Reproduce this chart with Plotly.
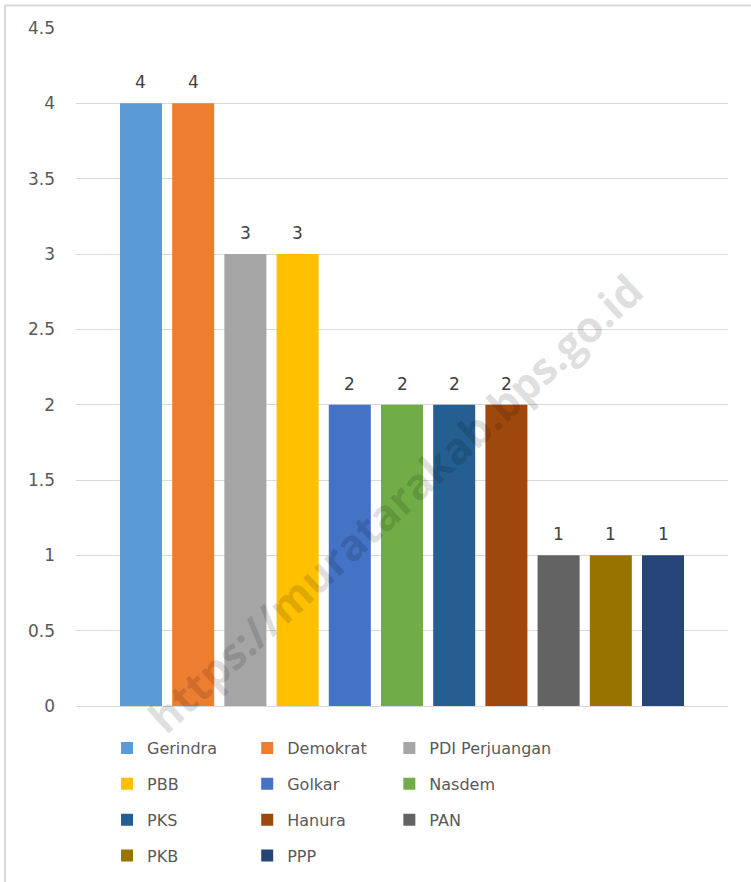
import plotly.graph_objects as go

parties = ["Gerindra", "Demokrat", "PDI Perjuangan", "PBB", "Golkar", "Nasdem",
           "PKS", "Hanura", "PAN", "PKB", "PPP"]
seats = [4, 4, 3, 3, 2, 2, 2, 2, 1, 1, 1]
colors = ["#5B9BD5", "#ED7D31", "#A5A5A5", "#FFC000", "#4472C4", "#70AD47",
          "#255E91", "#9E480E", "#636363", "#997300", "#264478"]
legend_cols = ["legend", "legend2", "legend3"]

fig = go.Figure()
for i, (p, v, c) in enumerate(zip(parties, seats, colors)):
    fig.add_trace(go.Bar(
        x=[p], y=[v], name=p, marker=dict(color=c, line=dict(width=0)),
        width=0.805, legend=legend_cols[i % 3], legendgroup=p,
        hoverinfo="skip",
    ))
    fig.add_annotation(x=p, y=v, text=str(v), showarrow=False, yshift=21,
                       yanchor="middle",
                       font=dict(family="DejaVu Sans", size=17, color="#404040"))

legend_common = dict(orientation="v", yanchor="top", xanchor="left",
                     font=dict(family="DejaVu Sans", size=16, color="#595959"),
                     tracegroupgap=12, bgcolor="rgba(0,0,0,0)", itemclick=False)
fig.update_layout(
    legend=dict(x=0.0476, y=-0.0371, **legend_common),
    legend2=dict(x=0.2626, y=-0.0371, **legend_common),
    legend3=dict(x=0.4806, y=-0.0371, **legend_common),
)

fig.add_annotation(
    text="https://muratarakab.bps.go.id", xref="paper", yref="paper",
    x=0.49, y=0.30, xanchor="center", yanchor="middle",
    showarrow=False, textangle=-42.6,
    font=dict(family="Open Sans", size=43, color="rgba(0,0,0,0.14)", weight="bold"),
)

fig.add_shape(type="rect", xref="paper", yref="paper",
              x0=-0.1089, x1=1.05, y0=-0.28, y1=1.0332,
              line=dict(color="#d9d9d9", width=2), layer="below")

fig.update_layout(
    width=751, height=882,
    margin=dict(l=76, r=23, t=28, b=176, autoexpand=False),
    paper_bgcolor="white", plot_bgcolor="white",
    barmode="overlay",
    showlegend=True,
    xaxis=dict(type="category", range=[-1.245, 11.245], showticklabels=False,
               showgrid=False, zeroline=False, showline=False, fixedrange=True),
    yaxis=dict(range=[0, 4.5], dtick=0.5, tick0=0, gridcolor="#d9d9d9", gridwidth=1,
               zeroline=True, zerolinecolor="#d9d9d9", zerolinewidth=1,
               showline=False, ticks="", ticklabelstandoff=20,
               tickfont=dict(family="DejaVu Sans", size=17, color="#595959"),
               fixedrange=True),
    font=dict(family="DejaVu Sans"),
)

fig.write_html("out.html", config={"displayModeBar": False},
               post_script="document.body.style.margin='0';")
